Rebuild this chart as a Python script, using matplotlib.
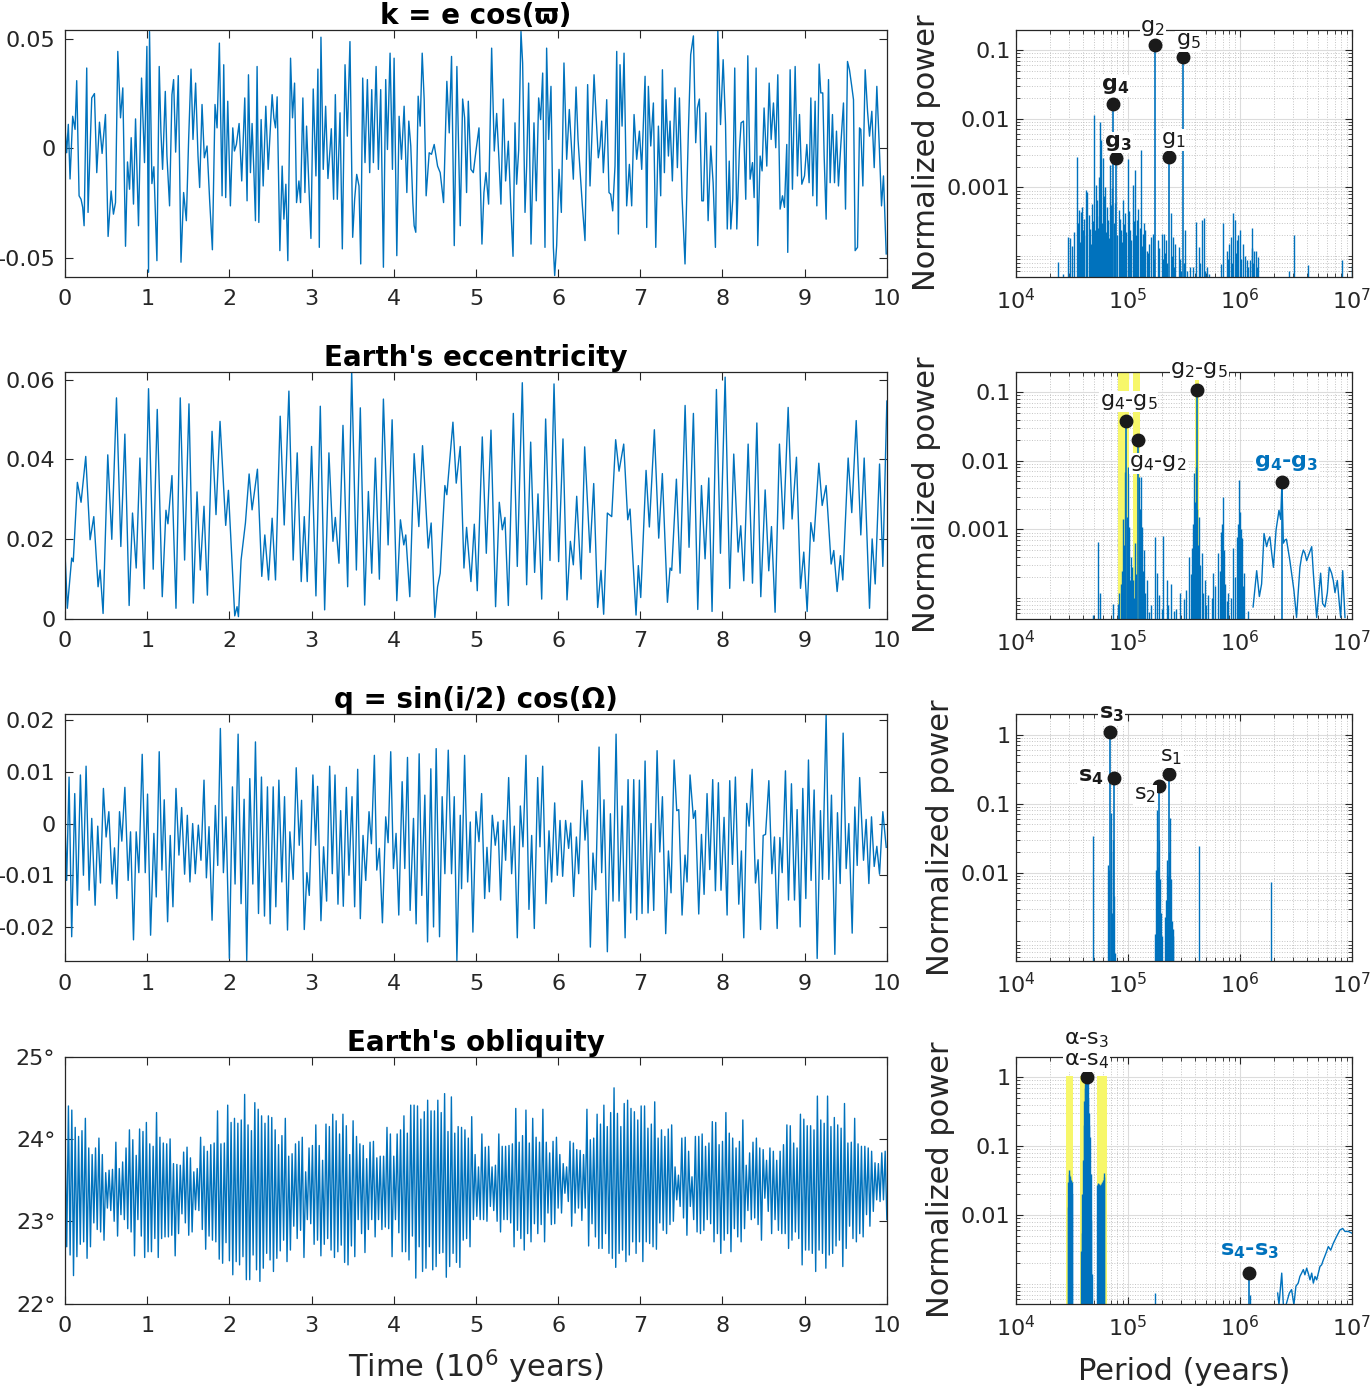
import numpy as np
import matplotlib.pyplot as plt
from matplotlib.ticker import LogLocator, NullFormatter

plt.rcParams['font.family'] = ['DejaVu Sans']
plt.rcParams['mathtext.fontset'] = 'dejavusans'
plt.rcParams['mathtext.default'] = 'regular'
plt.rcParams['axes.unicode_minus'] = False

BLUE = '#0072BD'
DARK = '#262626'
YELLOW = '#f7f76a'

# ---------------- time series (time in Myr, value) ----------------
K_PTS = [(0,0.0094),(0.02,-0.002),(0.04,0.011),(0.061,-0.014),(0.093,0.0147),(0.122,0.0087),(0.142,0.031),(0.171,-0.0217),
    (0.195,-0.0233),(0.215,-0.027),(0.232,-0.0354),(0.264,0.0368),(0.28,-0.0293),(0.325,0.0231),(0.358,0.0251),(0.386,-0.0111),
    (0.419,0.012),(0.451,-0.0023),(0.492,0.0155),(0.524,-0.0403),(0.561,-0.0195),(0.589,-0.0301),(0.614,-0.0248),(0.642,0.0444),
    (0.675,0.014),(0.703,0.0277),(0.736,-0.0448),(0.76,-0.0062),(0.785,-0.0187),(0.805,0.0049),(0.833,-0.0255),(0.858,0.0135),
    (0.894,-0.0354),(0.931,0.0322),(0.967,-0.0065),(0.996,0.0467),(1.016,-0.0567),(1.028,0.0535),(1.057,-0.0161),(1.081,-0.0084),
    (1.118,-0.0514),(1.146,0.0375),(1.167,0.0074),(1.187,-0.0096),(1.22,0.0261),(1.24,-0.0035),(1.272,-0.0263),(1.301,0.0246),
    (1.321,0.0315),(1.346,-0.0017),(1.378,0.0333),(1.411,-0.0521),(1.443,-0.0202),(1.476,-0.0331),(1.504,0.0041),(1.533,0.0363),
    (1.557,0.0041),(1.589,0.0299),(1.618,-0.0035),(1.638,-0.0179),(1.667,0.0201),(1.695,-0.0043),(1.728,0.0011),(1.76,-0.024),
    (1.793,-0.0464),(1.825,0.0201),(1.85,0.0094),(1.878,0.0482),(1.911,-0.0217),(1.931,0.0383),(1.955,-0.0225),(1.98,0.0216),
    (2.012,-0.0263),(2.041,0.0094),(2.061,-0.0012),(2.085,0.0018),(2.118,0.0114),(2.15,-0.0149),(2.187,0.0231),(2.215,-0.024),
    (2.232,0.0337),(2.256,-0.0111),(2.276,0.0114),(2.297,-0.0096),(2.317,-0.0331),(2.337,0.0375),(2.358,-0.0339),(2.386,0.0132),
    (2.411,-0.0172),(2.443,0.0193),(2.472,-0.0096),(2.492,0.0049),(2.52,0.0246),(2.541,0.014),(2.561,0.0094),(2.581,0.0236),
    (2.614,-0.0468),(2.642,-0.0081),(2.663,-0.0324),(2.687,-0.0164),(2.711,-0.0514),(2.744,0.0413),(2.768,0.014),(2.793,0.0299),
    (2.817,-0.0248),(2.846,-0.0149),(2.866,-0.0248),(2.894,0.0231),(2.919,-0.0202),(2.939,0.0102),(2.967,-0.0172),(2.992,-0.0412),
    (3.02,0.0272),(3.053,-0.0126),(3.077,0.0363),(3.094,-0.0453),(3.114,0.0509),(3.142,-0.0096),(3.171,0.0193),(3.199,-0.0138),
    (3.224,-0.0005),(3.24,0.009),(3.268,-0.0233),(3.289,0.0246),(3.313,-0.0233),(3.346,0.0163),(3.374,-0.046),(3.407,0.0383),
    (3.435,0.0056),(3.467,0.0489),(3.5,-0.0407),(3.524,-0.0233),(3.549,-0.0119),(3.577,-0.0172),(3.598,-0.0529),(3.622,0.0322),
    (3.65,-0.0065),(3.679,0.0315),(3.707,-0.0111),(3.732,0.0269),(3.752,-0.0065),(3.785,0.0375),(3.813,-0.0096),(3.841,0.0269),
    (3.874,-0.0544),(3.902,0.0315),(3.923,-0.0005),(3.955,0.0436),(3.984,-0.0096),(4.004,0.0413),(4.037,-0.0491),(4.065,0.0147),
    (4.094,-0.005),(4.126,0.0193),(4.159,-0.0202),(4.183,0.0125),(4.207,0.0011),(4.232,-0.0248),(4.248,-0.0354),(4.268,-0.0384),
    (4.297,0.0239),(4.321,0.0102),(4.346,0.0436),(4.37,0.0223),(4.394,-0.0217),(4.431,-0.002),(4.459,-0.0027),(4.492,0.0018),
    (4.533,-0.0081),(4.565,-0.0111),(4.606,-0.0248),(4.646,0.0307),(4.675,0.0071),(4.703,0.0421),(4.736,-0.0445),(4.768,0.0375),
    (4.809,-0.0354),(4.838,0.0226),(4.862,0.014),(4.886,-0.0202),(4.907,0.0216),(4.939,-0.0096),(4.968,-0.0111),(5.0,-0.0012),
    (5.037,0.0094),(5.073,-0.0438),(5.097,-0.0202),(5.122,-0.0111),(5.154,-0.0255),(5.191,0.0459),(5.223,-0.0012),(5.252,0.016),
    (5.28,-0.005),(5.304,-0.0255),(5.333,0.0226),(5.361,-0.0149),(5.394,0.0033),(5.422,-0.0248),(5.451,-0.0494),(5.475,0.0117),
    (5.495,-0.0164),(5.52,-0.0008),(5.548,0.0535),(5.568,0.0391),(5.597,-0.0293),(5.617,-0.0081),(5.641,0.0299),(5.67,-0.0438),
    (5.706,0.0117),(5.734,-0.024),(5.763,0.0231),(5.787,0.0132),(5.812,0.0345),(5.84,-0.0453),(5.86,0.0459),(5.885,0.0041),
    (5.913,0.0284),(5.942,-0.0453),(5.958,-0.0582),(5.982,-0.0445),(6.011,-0.0096),(6.039,-0.0293),(6.071,0.0391),(6.104,-0.005),
    (6.136,0.0178),(6.161,0.0011),(6.185,-0.0141),(6.218,0.0281),(6.242,0.0041),(6.266,-0.0096),(6.295,-0.0263),(6.327,-0.0422),
    (6.359,0.0292),(6.388,-0.0172),(6.408,0.0026),(6.437,0.0337),(6.461,0.0155),(6.489,-0.0043),(6.51,0.0011),(6.53,0.0125),
    (6.55,-0.0111),(6.571,0.0033),(6.591,0.0223),(6.619,-0.0202),(6.64,-0.021),(6.664,-0.0286),(6.692,-0.0081),(6.713,0.0444),
    (6.733,-0.0392),(6.753,0.0383),(6.778,0.0102),(6.802,0.0436),(6.834,-0.0263),(6.867,-0.0073),(6.895,-0.0263),(6.924,0.0155),
    (6.956,-0.005),(6.989,0.0079),(7.017,-0.0096),(7.058,0.033),(7.078,-0.0362),(7.098,0.0284),(7.127,0.0011),(7.159,0.0208),
    (7.188,-0.0453),(7.22,0.0102),(7.248,-0.0217),(7.269,0.036),(7.293,-0.0111),(7.313,0.0223),(7.342,-0.0035),(7.362,0.0125),
    (7.39,-0.0149),(7.423,0.0277),(7.451,-0.0088),(7.476,0.0231),(7.508,-0.0225),(7.544,-0.0529),(7.585,0.0079),(7.613,0.0429),
    (7.646,0.0515),(7.674,0.0026),(7.695,0.0185),(7.719,0.0226),(7.748,-0.024),(7.768,-0.024),(7.797,0.0163),(7.825,-0.0331),
    (7.857,0.0011),(7.886,-0.0157),(7.914,-0.0453),(7.943,0.0543),(7.976,0.0109),(8.008,0.0406),(8.037,0.0109),(8.058,-0.0369),
    (8.082,-0.0058),(8.101,-0.0369),(8.125,-0.0233),(8.149,0.0368),(8.174,-0.0369),(8.206,-0.0005),(8.226,0.0117),(8.255,0.0125),
    (8.283,-0.0233),(8.308,0.0424),(8.336,-0.0141),(8.365,-0.0065),(8.385,-0.0225),(8.409,0.0368),(8.429,-0.0445),(8.458,-0.0035),
    (8.482,-0.0103),(8.506,0.0185),(8.539,-0.0081),(8.568,0.0299),(8.592,0.0041),(8.62,0.0208),(8.648,0.0003),(8.673,0.0337),
    (8.701,-0.0278),(8.73,-0.0217),(8.754,-0.027),(8.782,0.0018),(8.794,-0.0476),(8.823,0.036),(8.851,-0.0187),(8.884,0.0375),
    (8.912,-0.0126),(8.937,0.0155),(8.965,-0.0164),(8.998,-0.0126),(9.026,0.0018),(9.054,-0.0157),(9.075,0.0231),(9.099,-0.0217),
    (9.127,0.0216),(9.148,-0.0263),(9.176,0.0386),(9.196,0.0254),(9.22,0.0254),(9.237,-0.0035),(9.261,-0.0324),(9.29,0.0315),
    (9.31,-0.0157),(9.338,0.0155),(9.363,-0.0157),(9.387,0.0079),(9.411,-0.0172),(9.44,0.0018),(9.472,0.0208),(9.497,-0.0278),
    (9.521,0.0398),(9.545,0.036),(9.57,0.0292),(9.594,0.0223),(9.614,-0.0468),(9.643,-0.0453),(9.667,0.0094),(9.683,0.0087),
    (9.708,-0.0172),(9.736,0.036),(9.765,0.017),(9.789,0.0056),(9.817,0.017),(9.846,-0.0088),(9.878,0.0284),(9.907,0.0018),
    (9.935,-0.0263),(9.959,-0.0126),(9.992,-0.0483)]

ECC_PTS = [(0,0.0164),(0.028,0.0026),(0.081,0.0152),(0.1,0.0143),(0.15,0.0342),(0.195,0.0292),(0.252,0.0407),(0.305,0.0198),
    (0.35,0.0256),(0.402,0.008),(0.427,0.0122),(0.463,0.0013),(0.52,0.0411),(0.569,0.0199),(0.626,0.0554),(0.679,0.0181),
    (0.728,0.0463),(0.78,0.0033),(0.821,0.0265),(0.866,0.0127),(0.911,0.0403),(0.963,0.0075),(1.016,0.0577),(1.073,0.0124),
    (1.122,0.0525),(1.183,0.0055),(1.228,0.0272),(1.252,0.0238),(1.301,0.0359),(1.35,0.0026),(1.402,0.0554),(1.455,0.0147),
    (1.508,0.0539),(1.561,0.0039),(1.606,0.0318),(1.646,0.0122),(1.691,0.0282),(1.732,0.0059),(1.789,0.047),(1.837,0.0261),
    (1.886,0.0495),(1.955,0.0234),(1.988,0.0322),(2.065,0.0007),(2.093,0.003),(2.11,0.0005),(2.142,0.0147),(2.195,0.024),
    (2.24,0.0363),(2.276,0.0273),(2.341,0.0375),(2.394,0.0106),(2.431,0.021),(2.476,0.0097),(2.52,0.0252),(2.561,0.0097),
    (2.618,0.0508),(2.667,0.0235),(2.724,0.0571),(2.776,0.0147),(2.825,0.0416),(2.874,0.0093),(2.911,0.0256),(2.947,0.0093),
    (3.0,0.0432),(3.053,0.0057),(3.106,0.0533),(3.159,0.0022),(3.211,0.0416),(3.26,0.0194),(3.289,0.0254),(3.333,0.0139),
    (3.382,0.0485),(3.439,0.008),(3.488,0.0621),(3.545,0.0122),(3.593,0.0529),(3.646,0.0034),(3.691,0.0319),(3.732,0.0114),
    (3.776,0.0403),(3.825,0.0099),(3.874,0.0551),(3.931,0.0185),(3.98,0.0499),(4.037,0.0045),(4.081,0.0248),(4.122,0.0185),
    (4.146,0.021),(4.195,0.0055),(4.248,0.0414),(4.305,0.0231),(4.35,0.0434),(4.419,0.0177),(4.455,0.024),(4.5,0.0003),
    (4.533,0.008),(4.565,0.0114),(4.622,0.0334),(4.646,0.0311),(4.72,0.0493),(4.76,0.034),(4.809,0.0432),(4.854,0.0127),
    (4.886,0.0229),(4.939,0.0093),(4.98,0.0237),(5.016,0.007),(5.077,0.0456),(5.126,0.0164),(5.183,0.0473),(5.239,0.003),
    (5.284,0.0292),(5.321,0.0223),(5.353,0.0254),(5.394,0.0033),(5.455,0.0515),(5.503,0.0131),(5.564,0.0592),(5.617,0.0085),
    (5.666,0.0443),(5.714,0.0116),(5.755,0.0313),(5.8,0.0049),(5.848,0.0501),(5.901,0.0146),(5.95,0.0589),(6.006,0.0143),
    (6.059,0.0451),(6.108,0.0047),(6.149,0.0194),(6.185,0.0135),(6.226,0.0307),(6.279,0.0099),(6.323,0.0431),(6.388,0.0166),
    (6.433,0.0339),(6.481,0.0028),(6.522,0.0121),(6.554,0.0011),(6.599,0.0265),(6.652,0.0256),(6.7,0.0449),(6.741,0.037),
    (6.798,0.0438),(6.847,0.0248),(6.875,0.0275),(6.948,0.0009),(6.976,0.0133),(7.005,0.0053),(7.07,0.0372),(7.11,0.023),
    (7.171,0.0474),(7.224,0.0202),(7.268,0.0364),(7.33,0.0041),(7.362,0.0127),(7.382,0.0121),(7.439,0.035),(7.484,0.0114),
    (7.545,0.0535),(7.593,0.0179),(7.646,0.0515),(7.699,0.0023),(7.744,0.0334),(7.788,0.015),(7.833,0.0353),(7.873,0.0018),
    (7.926,0.0575),(7.975,0.0164),(8.032,0.0606),(8.088,0.0076),(8.137,0.0413),(8.19,0.0167),(8.222,0.0233),(8.259,0.0095),
    (8.312,0.0438),(8.365,0.0089),(8.418,0.0491),(8.466,0.0055),(8.519,0.0323),(8.563,0.012),(8.596,0.0231),(8.64,0.0016),
    (8.693,0.0438),(8.742,0.0225),(8.799,0.053),(8.847,0.025),(8.9,0.0405),(8.949,0.0076),(8.989,0.0167),(9.03,0.0018),
    (9.075,0.0241),(9.111,0.0194),(9.172,0.039),(9.213,0.0284),(9.261,0.0334),(9.322,0.0137),(9.354,0.0171),(9.395,0.0068),
    (9.435,0.0158),(9.464,0.0097),(9.529,0.0403),(9.573,0.0266),(9.627,0.0497),(9.683,0.021),(9.724,0.0403),(9.789,0.0026),
    (9.821,0.02),(9.858,0.0087),(9.911,0.0388),(9.951,0.0131),(10.0,0.0546)]

Q_PTS = [(0,0),(0.02,-0.011),(0.049,0.009),(0.081,-0.0219),(0.118,0.0058),(0.15,-0.0158),(0.187,0.0094),(0.224,-0.01),
    (0.256,0.0111),(0.293,-0.0129),(0.325,0.001),(0.366,-0.0158),(0.398,-0.0005),(0.431,-0.0115),(0.467,0.0068),(0.5,-0.0026),
    (0.533,0.0023),(0.573,-0.0117),(0.602,-0.0047),(0.63,-0.0145),(0.663,0.0023),(0.691,-0.0034),(0.728,0.007),(0.768,-0.011),
    (0.797,-0.0016),(0.833,-0.0225),(0.866,-0.0016),(0.898,-0.0095),(0.939,0.0134),(0.976,-0.0095),(1.004,0.0057),(1.041,-0.0216),
    (1.081,-0.0019),(1.11,-0.0142),(1.146,0.0139),(1.179,-0.009),(1.207,0.0046),(1.248,-0.019),(1.28,-0.0023),(1.313,-0.0161),
    (1.35,0.0068),(1.386,-0.0061),(1.419,0.0031),(1.455,-0.0098),(1.488,0.0016),(1.52,-0.0113),(1.553,0),(1.585,-0.0097),
    (1.622,-0.0003),(1.654,-0.0071),(1.691,0.0084),(1.72,-0.0105),(1.752,-0.0006),(1.789,-0.0187),(1.829,0.0035),(1.858,-0.0081),
    (1.89,0.0184),(1.927,-0.0095),(1.959,0.0013),(2.0,-0.0261),(2.037,0.0071),(2.069,-0.0117),(2.106,0.0173),(2.142,-0.0155),
    (2.179,0.0047),(2.211,-0.0265),(2.248,0.0087),(2.285,-0.0117),(2.317,0.0158),(2.354,-0.0174),(2.39,0.009),(2.427,-0.0179),
    (2.463,0.0071),(2.496,-0.0194),(2.533,0.0071),(2.565,-0.0161),(2.602,0.0084),(2.638,-0.0113),(2.671,0.0052),(2.707,-0.0206),
    (2.736,-0.0016),(2.776,-0.0108),(2.813,0.0108),(2.85,-0.0042),(2.878,0.0045),(2.911,-0.0205),(2.943,-0.0095),(2.972,-0.0139),
    (3.016,0.0094),(3.049,-0.0042),(3.073,0.0072),(3.114,-0.0188),(3.146,-0.0045),(3.183,-0.015),(3.22,0.0111),(3.252,-0.0097),
    (3.285,0.0094),(3.321,-0.0156),(3.354,0.0025),(3.386,-0.016),(3.423,0.007),(3.455,-0.01),(3.492,0.0052),(3.524,-0.0161),
    (3.561,0.0105),(3.593,-0.0184),(3.626,-0.0023),(3.659,-0.011),(3.699,0.0023),(3.728,-0.0039),(3.764,0.0132),(3.793,-0.009),
    (3.825,-0.0048),(3.862,-0.0192),(3.902,0.0013),(3.931,-0.0037),(3.963,0.0139),(3.996,-0.0087),(4.028,-0.0019),(4.061,-0.0177),
    (4.102,0.0081),(4.134,-0.0087),(4.167,0.0128),(4.199,-0.0168),(4.24,0.001),(4.272,-0.0194),(4.309,0.0135),(4.341,-0.0139),
    (4.378,0.0055),(4.411,-0.0229),(4.451,0.0106),(4.484,-0.02),(4.516,0.0145),(4.557,-0.0219),(4.589,0.0052),(4.622,-0.0097),
    (4.663,0.0142),(4.703,-0.0097),(4.736,0.0052),(4.768,-0.0265),(4.809,0.0016),(4.825,-0.0126),(4.862,0.0132),(4.899,-0.0113),
    (4.931,0.0003),(4.963,-0.021),(5.0,0.0023),(5.037,-0.0035),(5.069,0.0058),(5.106,-0.0145),(5.134,-0.0046),(5.163,-0.0132),
    (5.199,0.0016),(5.235,-0.0042),(5.268,0.0003),(5.3,-0.0148),(5.333,0.0006),(5.361,-0.0071),(5.398,0.0089),(5.434,-0.0097),
    (5.467,-0.0005),(5.503,-0.0221),(5.54,0.0034),(5.572,-0.0045),(5.609,0.0132),(5.645,-0.0166),(5.678,-0.0023),(5.71,-0.0203),
    (5.751,0.0089),(5.779,-0.0045),(5.812,0.0111),(5.852,-0.0155),(5.889,-0.0014),(5.921,-0.0113),(5.958,0.004),(5.99,-0.01),
    (6.023,0.0006),(6.055,-0.0102),(6.091,0.0006),(6.128,-0.0048),(6.153,0.0001),(6.189,-0.0141),(6.222,-0.0026),(6.25,-0.0097),
    (6.291,0.0083),(6.327,-0.0032),(6.356,0.0026),(6.392,-0.0239),(6.424,-0.0057),(6.457,-0.0128),(6.498,0.0148),(6.53,-0.0095),
    (6.558,0.0046),(6.599,-0.0248),(6.636,0.0019),(6.668,-0.015),(6.705,0.0173),(6.741,-0.015),(6.778,0.0034),(6.815,-0.0221),
    (6.851,0.0085),(6.883,-0.0173),(6.92,0.0085),(6.956,-0.0186),(6.989,0.0084),(7.021,-0.0174),(7.058,0.0121),(7.094,-0.0173),
    (7.131,0),(7.163,-0.0168),(7.204,0.0141),(7.237,-0.0055),(7.269,0.0052),(7.309,-0.0213),(7.342,-0.0053),(7.374,-0.0134),
    (7.411,0.0123),(7.443,0.0025),(7.468,0.0027),(7.508,-0.0177),(7.544,-0.0061),(7.569,-0.0113),(7.605,0.0094),(7.646,0.001),
    (7.67,0.0025),(7.711,-0.0175),(7.744,-0.0021),(7.776,-0.0137),(7.812,0.0058),(7.845,-0.0089),(7.881,0.0085),(7.914,-0.013),
    (7.95,0.0079),(7.982,-0.0129),(8.019,0.0012),(8.056,-0.0177),(8.088,0.0083),(8.121,-0.0079),(8.157,0.009),(8.198,-0.0156),
    (8.23,-0.0053),(8.259,-0.0221),(8.295,0.0039),(8.324,-0.0005),(8.361,0.0105),(8.401,-0.0115),(8.433,-0.007),(8.463,-0.0205),
    (8.495,-0.0023),(8.524,-0.0021),(8.564,0.0083),(8.601,-0.0097),(8.632,-0.0026),(8.665,-0.0203),(8.698,-0.0027),(8.726,-0.0095),
    (8.766,0.0102),(8.803,-0.0148),(8.839,0.0077),(8.876,-0.0148),(8.908,0.0027),(8.945,-0.02),(8.977,0.0068),(9.014,-0.0145),
    (9.046,0.0123),(9.078,-0.011),(9.115,0.0065),(9.152,-0.0261),(9.192,0.0025),(9.217,-0.0108),(9.261,0.0212),(9.294,-0.0108),
    (9.326,0.0055),(9.367,-0.0253),(9.399,0.0021),(9.432,-0.0116),(9.468,0.0175),(9.505,-0.0087),(9.537,0),(9.578,-0.0212),
    (9.61,0.0032),(9.639,-0.0081),(9.669,0.0089),(9.716,-0.0071),(9.748,0.0008),(9.781,-0.0116),(9.813,0.0013),(9.846,-0.0083),
    (9.878,-0.0044),(9.911,-0.0098),(9.951,0.0023),(9.992,-0.0046)]

# obliquity: successive maxima and minima of each ~41 kyr cycle (degrees)
OBL_MAX = [24.05,24.40,24.35,24.14,24.03,24.10,24.25,23.89,23.81,23.89,24.01,23.81,23.59,23.62,23.63,23.96,23.64,23.72,23.89,24.11,
    23.99,23.80,24.12,24.09,24.20,23.94,23.91,24.32,24.02,23.95,23.94,24.00,23.70,23.69,23.68,23.84,23.90,23.77,23.60,23.64,
    24.02,23.91,23.85,23.93,23.95,24.34,23.94,23.95,24.41,24.20,24.25,24.19,24.23,24.54,24.17,24.10,24.44,24.36,24.28,24.19,
    24.28,24.26,24.11,23.93,24.04,24.25,23.79,23.82,23.94,23.97,24.02,23.60,23.89,23.92,24.17,23.92,23.74,24.18,24.15,24.30,
    24.22,24.06,24.30,24.16,23.81,24.22,24.03,23.94,23.92,23.76,23.96,23.97,23.77,23.79,23.79,24.14,24.06,23.79,24.06,24.11,
    24.28,24.07,24.41,24.41,24.40,24.24,24.33,24.47,24.34,24.34,24.47,24.32,24.55,24.09,24.51,24.07,24.15,
    24.14,24.11,24.01,24.27,23.81,23.66,24.06,23.90,23.91,23.66,23.68,24.06,23.91,23.91,23.92,23.94,24.37,23.96,24.04,24.35,
    23.95,24.25,24.02,23.96,24.36,23.96,23.83,23.97,24.02,23.81,23.70,23.66,23.97,23.95,23.87,23.86,23.81,24.36,23.99,24.01,
    24.30,24.18,24.41,24.15,24.32,24.62,24.31,24.15,24.43,24.47,24.37,24.33,24.23,24.40,24.40,24.13,24.18,24.45,24.01,24.11,
    24.03,24.12,24.17,23.66,23.56,24.01,24.02,23.85,23.54,24.03,24.03,24.06,23.91,23.95,24.21,24.20,23.93,23.97,24.32,24.07,
    24.01,23.89,23.97,24.23,23.68,23.83,23.96,24.01,23.89,23.87,23.74,23.89,23.85,23.74,23.85,23.93,24.17,24.16,23.95,23.89,
    24.30,24.24,24.16,24.16,24.11,24.52,24.23,24.19,24.52,24.15,24.26,24.17,24.13,24.43,23.95,23.96,24.25,23.94,23.91,23.91,
    23.89,23.85,23.71,23.70,23.83,23.85]
OBL_MIN = [22.69,22.59,22.34,22.57,22.72,22.75,22.55,22.69,22.98,22.90,22.87,22.77,23.16,23.13,23.00,22.82,23.08,23.02,22.91,22.87,
    22.58,23.02,22.82,22.56,22.63,22.63,22.79,22.56,22.79,22.81,22.81,22.83,22.58,22.85,23.09,22.98,22.83,22.87,23.14,23.13,
    22.90,22.66,22.82,22.77,22.75,22.54,22.49,22.74,22.52,22.35,22.51,22.47,22.57,22.29,22.29,22.59,22.41,22.27,22.43,22.61,
    22.53,22.39,22.55,22.64,22.77,22.51,22.65,22.94,22.79,22.89,22.56,23.02,22.97,22.72,22.77,22.58,22.72,22.79,22.65,22.56,
    22.63,22.71,22.50,22.47,22.70,22.57,23.02,22.85,22.62,22.90,23.02,22.81,23.02,22.90,22.93,22.91,22.57,23.02,22.86,22.63,
    22.63,22.53,22.82,22.31,22.69,22.39,22.43,22.69,22.41,22.45,22.61,22.62,22.32,22.45,22.61,22.50,22.44,
    22.77,22.79,22.69,23.02,23.06,23.02,23.02,23.00,23.18,23.13,23.00,22.87,23.02,23.02,22.98,22.69,22.89,22.79,22.65,
    22.85,22.75,22.97,22.85,22.96,22.75,23.10,22.96,22.97,23.16,23.10,23.34,23.24,22.94,23.10,23.16,23.01,23.16,22.70,22.97,
    22.81,22.67,22.67,22.85,22.61,22.55,22.44,22.61,22.65,22.51,22.59,22.75,22.61,22.75,22.51,22.75,22.73,22.69,22.66,22.98,
    22.89,22.85,22.96,23.00,23.26,23.18,23.04,22.83,23.18,23.02,22.87,22.85,22.89,23.02,22.97,22.75,22.85,22.61,22.77,22.85,
    22.63,22.91,22.81,22.75,22.91,23.13,23.02,23.04,22.96,22.77,23.28,23.12,22.85,23.02,22.89,22.85,22.85,22.67,22.77,22.87,
    22.79,22.47,22.65,22.65,22.61,22.39,22.65,22.61,22.43,22.59,22.61,22.70,22.77,22.45,22.67,22.94,22.79,22.75,22.85,22.81,
    23.08,22.94,23.12,23.26,23.24,23.26,23.02]

# ---------------- spectra (period in kyr, normalized power) ----------------
SPEC_K = [(23.9,8.1e-5),(26.4,5.5e-5),(29.3,1.9e-4),(30.3,1.8e-4),(31.8,1.4e-4),(33,2.2e-4),(34.8,2.8e-3),(35.5,3.0e-4),
    (36.5,4.7e-4),(37,1.6e-4),(38.0,4.4e-4),(39,5.2e-4),(39.7,2.4e-4),(40.5,3.5e-4),(41.9,9.1e-4),(42.5,2.0e-4),(43.3,8.6e-4),
    (44.5,4.0e-4),(45.8,2.5e-4),(46.5,1.5e-4),(47.4,5.8e-4),(48.5,3.2e-4),(49.7,0.0115),(50.5,2.4e-4),(51.8,1.1e-3),(52.5,3.8e-4),
    (53.2,6.5e-4),(54.5,2.6e-4),(55.3,1.4e-3),(56.2,9.1e-3),(57.8,4.9e-3),(59,3.0e-4),(60.3,2.7e-3),(61.5,7.5e-4),(62.7,1.0e-3),
    (64,2.2e-4),(65.3,5.2e-4),(66.5,3.4e-4),(67.8,1.8e-4),(69.0,2.1e-3),(70.5,5.5e-4),(72.0,9.7e-4),(75.5,3.0e-4),(77,6.0e-4),
    (80,2.0e-4),(82.6,4.7e-4),(84.5,3.5e-4),(86.6,2.4e-4),(88,1.6e-4),(89.6,6.5e-4),(91.5,2.9e-4),(94.6,4.2e-4),(97,2.2e-4),
    (100,2.6e-3),(102,4.5e-4),(104,2.4e-4),(107,1.7e-4),(110,1.1e-3),(113,3.2e-4),(116,1.8e-3),(118.5,2.0e-4),(121,3.3e-4),
    (124,4.9e-4),(127,2.6e-4),(130,3.5e-3),(132.5,1.4e-4),(135,2.1e-4),(139,3.0e-4),(143,2.4e-4),(147,1.2e-4),(151,1.1e-4),
    (155,1.5e-4),(159,1.9e-4),(166,2.1e-4),(170,9e-5),(184,1.7e-4),(190,1.3e-4),(200,2.1e-4),(205,9e-5),(210,2.1e-4),
    (215,1.1e-4),(220,1.7e-4),(225,8e-5),(240,4.2e-4),(247,1.0e-4),(254,1.9e-4),(260,7e-5),(265,1.5e-4),(283,1.35e-4),
    (290,9e-5),(300,6e-5),(315,8e-5),(323,2.4e-4),(340,6e-5),(358,6.9e-5),(380,7e-5),(402,3.1e-4),(428,1.35e-4),(440,8e-5),
    (455,3.3e-4),(477,3.6e-4),(490,6e-5),(504,6.9e-5),(532,5.5e-5),(677,7.7e-5),(710,3.0e-4),(760,1.2e-4),(780,9e-5),
    (800,1.5e-4),(826,1.9e-4),(850,8e-5),(871,4.2e-4),(902,3.3e-4),(920,1.1e-4),(946,1.7e-4),(970,2.0e-4),(1000,2.4e-4),
    (1030,9e-5),(1070,1.5e-4),(1110,1.0e-4),(1150,8.7e-5),(1190,7e-5),(1230,8.7e-5),(1270,1.3e-4),(1290,2.6e-4),(1320,8e-5),
    (1340,1.2e-4),(1390,1.2e-4),(1430,7e-5),(1460,9.6e-5),(2760,6e-5),(3050,2.0e-4),(4070,7.3e-5),(8190,8.7e-5),(9930,7.3e-5)]
PEAKS_K = [(176,0.121),(307,0.080),(73,0.0164),(78.1,0.00265),(231,0.0028)]
NAMES_K = ['g$_2$', 'g$_5$', r'$\mathbf{g}_\mathbf{4}$', r'$\mathbf{g}_\mathbf{3}$', 'g$_1$']

SPEC_ECC = [(48.4,5.6e-5),(54.3,6.6e-4),(56.2,1.2e-4),(74,8.3e-5),(82,8.3e-5),(84,1.2e-4),(86.6,1.6e-4),(88,2.5e-4),
    (90.8,1.4e-3),(92.5,6e-4),(94,6.9e-3),(97.5,1.5e-3),(99.4,8.2e-3),(101,3e-4),(103,1.1e-3),(105,1.8e-4),(107,4.0e-4),
    (109,2.8e-4),(112,1.8e-4),(114,1.0e-4),(116,6.3e-4),(118,2.2e-4),(126,5.9e-3),(128,2.0e-3),(130,5.9e-3),(132,8e-4),
    (134,1.1e-3),(137,2.5e-4),(140,5.0e-4),(143,1.2e-4),(147,1.8e-4),(155,6.2e-5),(160,8e-5),(174,7.7e-4),(183,2.3e-4),
    (190,1.1e-4),(200,7e-5),(207,8e-4),(221,1.8e-4),(230,8e-5),(240,1.6e-4),(258,6.5e-5),(270,7e-5),(291,1.2e-4),(316,9.6e-5),
    (330,1.3e-4),(353,4.0e-4),(365,2.2e-4),(373,5.3e-4),(383,1.2e-3),(391,6.6e-3),(398,2.5e-3),(405,8.2e-3),(410,2.0e-3),
    (420,6e-4),(430,1.5e-3),(440,3e-4),(455,4.5e-4),(470,1.2e-4),(487,1.8e-4),(500,8e-5),(521,1.1e-4),(560,1.0e-4),(578,2.3e-4),
    (600,1.5e-4),(640,4.5e-4),(660,2.5e-4),(672,9.3e-4),(690,1.2e-3),(700,3.0e-3),(715,5e-4),(735,1.6e-4),(760,9e-5),
    (787,1.2e-4),(830,1.0e-4),(871,5.3e-4),(900,2.0e-4),(933,7.7e-4),(960,1.2e-3),(986,5.3e-3),(1000,1.8e-3),(1020,1.0e-3),
    (1040,7.4e-4),(1060,1.5e-4),(1090,2.3e-4),(1190,6.5e-5)]
TAIL_ECC = [(1310,7.4e-5),(1410,2.5e-4),(1490,1.05e-4),(1560,1.6e-4),(1640,8.7e-4),(1730,5.6e-4),(1790,7e-4),(1850,7.8e-4),
    (1920,4.5e-4),(1990,2.8e-4),(2100,9.8e-4),(2230,1.9e-3),(2310,1.4e-3),(2370,4.85e-3),(2440,6.3e-4),(2520,7e-4),(2600,7.2e-4),
    (2790,3.5e-4),(2890,2.3e-4),(3030,1.3e-4),(3200,5.2e-5),(3310,1.2e-4),(3430,2.8e-4),(3550,4e-4),(3680,5e-4),(3800,4.5e-4),
    (3940,3.5e-4),(4160,4.5e-4),(4370,5.6e-4),(4520,2.3e-4),(4680,1.05e-4),(4840,5.2e-5),(5250,2.3e-4),(5470,8.3e-5),
    (5740,7.4e-5),(6030,1.2e-4),(6270,2.8e-4),(6580,2.3e-4),(6810,1.8e-4),(7050,1.2e-4),(7400,1.8e-4),(7710,8.3e-5),
    (7930,5.2e-5),(8260,2.5e-4),(8660,5.2e-5)]
PEAKS_ECC = [(413,0.109),(96,0.038),(122,0.0203),(2370,0.00485)]
NAMES_ECC = ['g$_2$-g$_5$', 'g$_4$-g$_5$', 'g$_4$-g$_2$', r'$\mathbf{g}_\mathbf{4}$-$\mathbf{g}_\mathbf{3}$']
BANDS_ECC = [(80.9,102), (111,127), (399,433)]

SPEC_Q = [(49,0.034),(66.7,0.0128),(67.5,0.011),(68,0.004),(70,0.02),(71,0.072),(72.4,0.0026),(73.2,0.03),(75.5,0.0045),
    (76.6,6.7e-4),(174,1.3e-3),(178,0.0108),(180,0.02),(183,0.08),(186,0.012),(190,0.0295),(192,0.008),(196,2.6e-3),
    (200,1.2e-3),(214,2.3e-3),(218,0.004),(221,0.015),(226,3.2e-3),(229,0.009),(234,0.02),(237,0.061),(240,0.008),
    (245,2.0e-3),(250,1.5e-3),(254,1.2e-3),(434,0.024),(1880,0.0074)]
PEAKS_Q = [(69,1.09),(74.5,0.235),(188,0.178),(232,0.272)]
NAMES_Q = [r'$\mathbf{s}_\mathbf{3}$', r'$\mathbf{s}_\mathbf{4}$', 's$_2$', 's$_1$']

SPEC_OBL = [(28.9,0.013),(29.2,0.03),(29.5,0.045),(29.9,0.04),(30.2,0.037),(30.5,0.034),(30.8,0.032),(31.1,0.031),(31.4,0.03),
    (31.8,0.02),(38.2,0.003),(38.6,0.0055),(39.2,0.02),(39.7,0.063),(40.1,0.2),(40.5,0.45),(41.0,0.7),(41.6,0.91),(42.2,0.97),
    (43.1,0.95),(43.6,0.85),(44.2,0.5),(44.9,0.3),(45.3,0.2),(45.8,0.138),(46.3,0.04),(46.8,0.0086),(47.7,1.4e-3),
    (53.2,0.027),(53.7,0.028),(54.3,0.029),(55.2,0.028),(56.2,0.027),(57.2,0.028),(58.2,0.029),(59.2,0.03),(60.2,0.032),
    (60.9,0.036),(61.5,0.041),(174,7.4e-4),(1230,7e-4)]
TAIL_OBL = [(2170,7.4e-4),(2230,5e-4),(2360,1.44e-3),(2440,5e-4),(2580,5e-4),(2760,7.4e-4),(2890,8.3e-4),(3030,5e-4),
    (3160,9.3e-4),(3310,1.03e-3),(3430,1.29e-3),(3550,1.44e-3),(3680,1.62e-3),(3800,1.36e-3),(3940,1.7e-3),(4070,1.44e-3),
    (4220,1.15e-3),(4370,1.44e-3),(4520,1.03e-3),(4680,1.29e-3),(4840,1.15e-3),(5010,1.44e-3),(5180,1.8e-3),(5360,1.9e-3),
    (5550,2.24e-3),(5860,2.8e-3),(6150,3.5e-3),(6460,3.1e-3),(6810,3.9e-3),(7290,4.9e-3),(7820,6.1e-3),(8260,6.4e-3),
    (8660,5.8e-3),(9270,5.8e-3),(9930,5.5e-3)]
PEAKS_OBL = [(42.8,1.0),(1200,0.00143)]
NAMES_OBL = ['α-s$_3$\nα-s$_4$', r'$\mathbf{s}_\mathbf{4}$-$\mathbf{s}_\mathbf{3}$']
BANDS_OBL = [(27.9,32.5), (37.5,45.2), (52.9,64.5)]


def style_axes(ax):
    for sp in ax.spines.values():
        sp.set_color(DARK)
        sp.set_linewidth(0.9)
    ax.tick_params(which='both', direction='in', top=True, right=True, colors=DARK, labelsize=16)


# Left column: the time series
def draw_series(ax, t, v, title, yticks, ylabels, ylim, xlabel=None):
    ax.plot(t, v, color=BLUE, lw=1.0)
    ax.set_xlim(0, 10)
    ax.set_ylim(*ylim)
    ax.set_xticks(range(11))
    ax.set_yticks(yticks)
    ax.set_yticklabels(ylabels)
    style_axes(ax)
    ax.tick_params(which='major', length=6, width=0.8, pad=7)
    ax.tick_params(axis='x', pad=9)
    ax.set_title(title, fontsize=20, fontweight='bold', pad=3, color='black')
    if xlabel:
        ax.set_xlabel(xlabel, fontsize=22, color=DARK, labelpad=8)


# Right column: the normalized power spectra
def draw_spectrum(ax, spikes, peaks, names, label_pos, ylim, yticks, ylabels,
                  tail=None, bands=None, band_top=None, blue_last=False, bold=(), xlabel=None):
    floor = 1e-8
    ax.set_xscale('log')
    ax.set_yscale('log')
    ax.set_xlim(1e4, 1e7)
    ax.set_ylim(*ylim)
    if bands:
        for p0, p1 in bands:
            ax.fill_between([p0 * 1e3, p1 * 1e3], floor, band_top, color=YELLOW, lw=0, zorder=1)
    p = np.array([s[0] for s in spikes]) * 1e3
    w = np.array([s[1] for s in spikes])
    ax.vlines(p, floor, w, color=BLUE, lw=1.0, zorder=2)
    if tail:
        ax.plot(np.array([s[0] for s in tail]) * 1e3, [s[1] for s in tail], color=BLUE, lw=1.0, zorder=2)
    pp = np.array([s[0] for s in peaks]) * 1e3
    pw = np.array([s[1] for s in peaks])
    ax.vlines(pp, floor, pw, color=BLUE, lw=1.2, zorder=2)
    ax.plot(pp, pw, 'o', color='#1a1a1a', ms=9, zorder=5, clip_on=False)
    for i, (name, (lx, ly)) in enumerate(zip(names, label_pos)):
        col = BLUE if (blue_last and i == len(names) - 1) else '#1a1a1a'
        fw = 'bold' if i in bold else 'normal'
        ax.text(lx, ly, name, ha='center', va='center', fontsize=16, color=col, fontweight=fw,
                linespacing=1.0, zorder=6, clip_on=False,
                bbox=dict(facecolor='white', edgecolor='none', pad=0.5))
    ax.set_xticks([1e4, 1e5, 1e6, 1e7])
    ax.xaxis.set_minor_locator(LogLocator(base=10, subs=np.arange(2, 10), numticks=20))
    ax.xaxis.set_minor_formatter(NullFormatter())
    ax.set_yticks(yticks)
    ax.set_yticklabels(ylabels)
    ax.yaxis.set_minor_locator(LogLocator(base=10, subs=np.arange(1, 10), numticks=20))
    ax.yaxis.set_minor_formatter(NullFormatter())
    ax.grid(True, which='major', color='#dcdcdc', lw=0.8, zorder=0)
    ax.grid(True, which='minor', color='#c4c4c4', lw=0.7, ls=':', zorder=0)
    ax.set_axisbelow(True)
    style_axes(ax)
    ax.tick_params(which='major', length=5, width=0.8, pad=4)
    ax.tick_params(axis='x', which='major', pad=8)
    ax.tick_params(which='minor', length=3, width=0.6)
    ax.set_ylabel('Normalized power', fontsize=22, color=DARK, labelpad=4)
    if xlabel:
        ax.set_xlabel(xlabel, fontsize=22, color=DARK, labelpad=12)


fig = plt.figure(figsize=(13.72, 13.88), dpi=100)
bottoms = [0.8007, 0.5543, 0.3076, 0.0608]
H = 0.178
left_axes = [fig.add_axes([0.0474, b, 0.599, H]) for b in bottoms]
right_axes = [fig.add_axes([0.7405, b, 0.2449, H]) for b in bottoms]

# time series panels
kt, kv = zip(*K_PTS)
draw_series(left_axes[0], kt, kv, 'k = e cos(ϖ)', [-0.05, 0, 0.05], ['-0.05', '0', '0.05'], (-0.0587, 0.0544))
et, ev = zip(*ECC_PTS)
draw_series(left_axes[1], et, ev, "Earth's eccentricity", [0, 0.02, 0.04, 0.06], ['0', '0.02', '0.04', '0.06'], (0, 0.062))
qt, qv = zip(*Q_PTS)
draw_series(left_axes[2], qt, qv, 'q = sin(i/2) cos(Ω)', [-0.02, -0.01, 0, 0.01, 0.02],
            ['-0.02', '-0.01', '0', '0.01', '0.02'], (-0.0266, 0.0212))
n = min(len(OBL_MAX), len(OBL_MIN))
obl = np.empty(2 * n)
obl[0::2] = OBL_MAX[:n]
obl[1::2] = OBL_MIN[:n]
obl_t = np.linspace(0, 10, 2 * n)
draw_series(left_axes[3], obl_t, obl, "Earth's obliquity", [22, 23, 24, 25], ['22°', '23°', '24°', '25°'], (22, 25),
            xlabel='Time (10$^6$ years)')

# spectrum panels
draw_spectrum(right_axes[0], SPEC_K, PEAKS_K, NAMES_K,
              [(166e3, 0.213), (346e3, 0.135), (76.6e3, 0.030), (82e3, 0.0045), (254e3, 0.0049)],
              (5e-5, 0.2), [1e-3, 1e-2, 1e-1], ['0.001', '0.01', '0.1'])
draw_spectrum(right_axes[1], SPEC_ECC, PEAKS_ECC, NAMES_ECC,
              [(434e3, 0.212), (101e3, 0.073), (186e3, 0.0092), (2.58e6, 0.0093)],
              (5e-5, 0.2), [1e-3, 1e-2, 1e-1], ['0.001', '0.01', '0.1'],
              tail=TAIL_ECC, bands=BANDS_ECC, band_top=0.2, blue_last=True, bold=(3,))
draw_spectrum(right_axes[2], SPEC_Q, PEAKS_Q, NAMES_Q,
              [(71.4e3, 2.01), (46.4e3, 0.243), (142e3, 0.132), (242e3, 0.473)],
              (5.2e-4, 2), [1e-2, 1e-1, 1], ['0.01', '0.1', '1'])
draw_spectrum(right_axes[3], SPEC_OBL, PEAKS_OBL, NAMES_OBL,
              [(42.8e3, 2.45), (1.21e6, 0.00297)],
              (5.2e-4, 2), [1e-2, 1e-1, 1], ['0.01', '0.1', '1'],
              tail=TAIL_OBL, bands=BANDS_OBL, band_top=1.05, blue_last=True, bold=(1,),
              xlabel='Period (years)')

fig.savefig('out.png', dpi=100)
